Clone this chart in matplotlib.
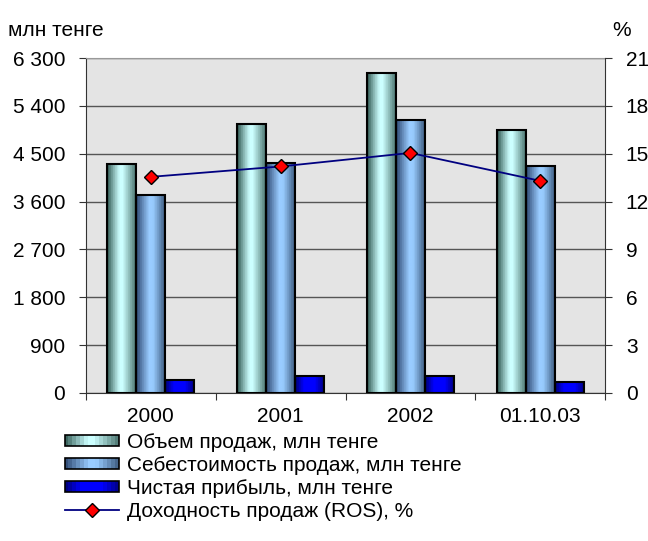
import numpy as np
import matplotlib.pyplot as plt
from matplotlib.colors import LinearSegmentedColormap
from matplotlib.patches import Rectangle
from matplotlib.legend_handler import HandlerBase
from matplotlib.lines import Line2D
from matplotlib.ticker import FuncFormatter

plt.rcParams['font.family'] = ['Liberation Sans', 'DejaVu Sans']
plt.rcParams['font.size'] = 15

categories = ['2000', '2001', '2002', '01.10.03']
sales = [4300, 5050, 6020, 4940]
cost = [3730, 4330, 5130, 4260]
profit = [240, 315, 315, 200]
ros = [13.55, 14.2, 15.05, 13.3]

names = ['Объем продаж, млн тенге', 'Себестоимость продаж, млн тенге',
         'Чистая прибыль, млн тенге', 'Доходность продаж (ROS), %']

# cylinder-like banded gradients (Excel style)
cmaps = [
    LinearSegmentedColormap.from_list('s', [(0, '#3d6660'), (0.42, '#ccffff'), (0.55, '#ccffff'), (1, '#557f7a')]),
    LinearSegmentedColormap.from_list('c', [(0, '#34507a'), (0.45, '#99ccff'), (0.6, '#99ccff'), (1, '#46668c')]),
    LinearSegmentedColormap.from_list('p', [(0, '#000080'), (0.3, '#0000ff'), (0.7, '#0000ff'), (1, '#000090')]),
]
bands = np.floor(np.linspace(0, 1, 200) * 14) / 13
grad = bands[np.newaxis, :]

fig = plt.figure(figsize=(6.48, 5.41), dpi=100)
ax = fig.add_axes([86 / 648, 1 - 393 / 541, 519 / 648, 335 / 541])
ax.set_facecolor('#e4e4e4')

x = np.arange(len(categories))
w = 0.223
for i, (vals, cm) in enumerate(zip([sales, cost, profit], cmaps)):
    bars = ax.bar(x + (i - 1) * w, vals, w, color='none', edgecolor='black', linewidth=1.5, zorder=3)
    for b in bars:
        x0, y0 = b.get_x(), b.get_y()
        im = ax.imshow(grad, cmap=cm, aspect='auto', vmin=0, vmax=1,
                       extent=[x0, x0 + b.get_width(), y0, y0 + b.get_height()], zorder=2)
        im.set_clip_path(b)

ax.set_xlim(-0.5, len(categories) - 0.5)
ax.set_ylim(0, 6300)
ax.set_yticks(np.arange(0, 6301, 900))
ax.yaxis.set_major_formatter(FuncFormatter(lambda v, p: f'{v:,.0f}'.replace(',', ' ')))
ax.grid(axis='y', color='#555555', linewidth=1)
ax.set_axisbelow(True)
ax.set_xticks(np.arange(len(categories) + 1) - 0.5)
ax.set_xticklabels([])
ax.set_xticks(x, minor=True)
ax.set_xticklabels(categories, minor=True)
ax.tick_params(axis='x', which='minor', length=0, pad=10)
ax.tick_params(axis='x', which='major', length=5, color='#333333')
ax.tick_params(axis='y', length=5, color='#333333', pad=10)
for s in ['left', 'bottom']:
    ax.spines[s].set_color('#333333')
ax.spines['top'].set_color('#999999')
ax.spines['right'].set_visible(False)

ax2 = ax.twinx()
ax2.plot(x, ros, color='#000080', linewidth=1.3, marker='D', markersize=7,
         markerfacecolor='#ff0000', markeredgecolor='black', markeredgewidth=1)
ax2.set_ylim(0, 21)
ax2.set_yticks(np.arange(0, 22, 3))
ax2.tick_params(axis='y', length=5, color='#333333', pad=10)
ax2.spines['right'].set_color('#333333')
for s in ['left', 'top', 'bottom']:
    ax2.spines[s].set_visible(False)

fig.text(8 / 648, 1 - 30 / 541, 'млн тенге', ha='left', va='center')
fig.text(622 / 648, 1 - 30 / 541, '%', ha='center', va='center')


class GradientHandler(HandlerBase):
    def __init__(self, cmap):
        super().__init__()
        self.cmap = cmap

    def create_artists(self, legend, orig_handle, xd, yd, width, height, fontsize, trans):
        arts = []
        n = 14
        for k in range(n):
            r = Rectangle((xd + width * k / n, yd + height * 0.1), width / n + 0.3, height * 0.75,
                          facecolor=self.cmap(k / (n - 1)), edgecolor='none', transform=trans)
            arts.append(r)
        arts.append(Rectangle((xd, yd + height * 0.1), width, height * 0.75, facecolor='none',
                              edgecolor='black', linewidth=1.2, transform=trans))
        return arts


proxies = [Rectangle((0, 0), 1, 1) for _ in range(3)]
line_proxy = Line2D([], [], color='#000080', linewidth=1.3, marker='D', markersize=7,
                    markerfacecolor='#ff0000', markeredgecolor='black')
fig.legend(proxies + [line_proxy], names, loc='upper left',
           bbox_to_anchor=(52 / 648, 1 - 420 / 541), frameon=False,
           handler_map={proxies[i]: GradientHandler(cmaps[i]) for i in range(3)},
           handlelength=2.6, handletextpad=0.4, labelspacing=0.2, borderpad=0.1)

fig.savefig('out.png', dpi=100)
